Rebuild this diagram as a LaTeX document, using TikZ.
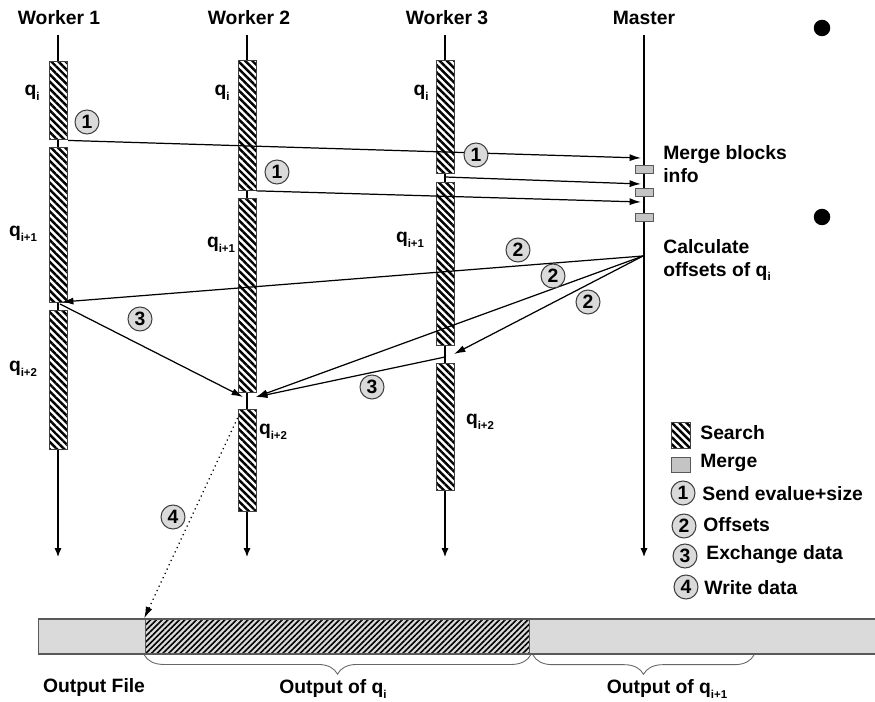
\documentclass[tikz,border=0pt]{standalone}
\usepackage{fontspec}
\setmainfont{Liberation Sans}
\usetikzlibrary{arrows.meta,patterns.meta,decorations.pathreplacing}
\definecolor{mergegray}{RGB}{196,196,196}
\definecolor{filegray}{RGB}{218,218,218}
\definecolor{circgray}{RGB}{218,218,218}
\newcommand{\qsub}[1]{q\raisebox{-0.45ex}{\fontsize{6.5}{7}\selectfont #1}}

\tikzset{
  lbl/.style={font=\bfseries\fontsize{11}{13}\selectfont, inner sep=0pt, align=left},
  searchbar/.style={rectangle, draw=black!75, line width=0.5pt, minimum width=0.36cm, anchor=north, inner sep=0pt,
    preaction={fill=white}, pattern={Lines[angle=-45, distance=2.9pt, line width=1.4pt]}},
  mergebox/.style={rectangle, draw=black!65, line width=0.5pt, fill=mergegray, minimum width=0.36cm, minimum height=0.16cm, inner sep=0pt},
  num/.style={circle, draw=black!75, line width=0.6pt, fill=circgray, minimum size=0.48cm, inner sep=0pt,
    font=\bfseries\fontsize{11}{11}\selectfont},
  lifeline/.style={line width=0.7pt, -{Latex[length=5pt, width=4pt]}},
  msg/.style={line width=0.7pt, -{Latex[length=6.5pt, width=4pt]}},
  brace/.style={draw=black!60, line width=0.5pt, decorate, decoration={brace, mirror, amplitude=11pt}}
}

\begin{document}
\begin{tikzpicture}[x=0.02cm, y=-0.02cm]
        \useasboundingbox (0,0) rectangle (875,702);

        % Column titles
        \node[lbl] (w1) at (59,18) {Worker 1};
        \node[lbl] (w2) at (249,18) {Worker 2};
        \node[lbl] (w3) at (447,18) {Worker 3};
        \node[lbl] (ms) at (644,18) {Master};

        % Lifelines
        \coordinate (w1s) at (58,35);  \coordinate (w1e) at (58,557);
        \coordinate (w2s) at (247,35); \coordinate (w2e) at (247,557);
        \coordinate (w3s) at (445,35); \coordinate (w3e) at (445,557);
        \coordinate (mss) at (644,35); \coordinate (mse) at (644,557);
        \draw[lifeline] (w1s) -- (w1e);
        \draw[lifeline] (w2s) -- (w2e);
        \draw[lifeline] (w3s) -- (w3e);
        \draw[lifeline] (mss) -- (mse);

        % Search blocks
        \node[searchbar, minimum height=1.56cm] (w1a) at (58,60) {};
        \node[searchbar, minimum height=3.1cm] (w1b) at (58,147) {};
        \node[searchbar, minimum height=2.78cm] (w1c) at (58,310) {};
        \node[searchbar, minimum height=2.6cm] (w2a) at (247,60) {};
        \node[searchbar, minimum height=3.88cm] (w2b) at (247,198) {};
        \node[searchbar, minimum height=2.04cm] (w2c) at (247,409) {};
        \node[searchbar, minimum height=2.26cm] (w3a) at (445,60) {};
        \node[searchbar, minimum height=3.26cm] (w3b) at (445,182) {};
        \node[searchbar, minimum height=2.54cm] (w3c) at (445,363) {};

        % Query labels
        \node[lbl] (q1a) at (32,93) {\qsub{i}};
        \node[lbl] (q1b) at (23,234) {\qsub{i+1}};
        \node[lbl] (q1c) at (23,369) {\qsub{i+2}};
        \node[lbl] (q2a) at (222,93) {\qsub{i}};
        \node[lbl] (q2b) at (221,245) {\qsub{i+1}};
        \node[lbl] (q2c) at (273,432) {\qsub{i+2}};
        \node[lbl] (q3a) at (421,93) {\qsub{i}};
        \node[lbl] (q3b) at (410,240) {\qsub{i+1}};
        \node[lbl] (q3c) at (480,422) {\qsub{i+2}};

        % Merge blocks on master
        \node[mergebox] (mg1) at (644,169.5) {};
        \node[mergebox] (mg2) at (644,192.5) {};
        \node[mergebox] (mg3) at (644,217.5) {};
        \node[lbl, anchor=west] (mgtxt) at (663,164) {Merge blocks\\info};
        \node[lbl, anchor=west] (caltxt) at (663,260) {Calculate\\offsets of \qsub{i}};

        % Message end points
        \coordinate (w3gap) at (445,177);
        \coordinate (mIn1) at (641,158);
        \coordinate (mIn2) at (641,184);
        \coordinate (mIn3) at (641,202);
        \coordinate (mOut) at (643,256);
        \coordinate (w1in) at (62,302);
        \coordinate (w1out) at (60,304);
        \coordinate (w2in) at (256,397);
        \coordinate (w2inl) at (243,397);
        \coordinate (w3in) at (454,354);
        \coordinate (w3out) at (445,357);

        % Send evalue+size
        \draw[msg] (w1a.south east) -- (mIn1);
        \draw[msg] (w3gap) -- (mIn2);
        \draw[msg] (w2a.south east) -- (mIn3);

        % Offsets
        \draw[msg] (mOut) -- (w1in);
        \draw[msg] (mOut) -- (w2in);
        \draw[msg] (mOut) -- (w3in);

        % Exchange data
        \draw[msg] (w1out) -- (w2inl);
        \draw[msg] (w3out) -- (w2in);

        % Step numbers
        \node[num] (n1a) at (87,122) {1};
        \node[num] (n1b) at (277,172) {1};
        \node[num] (n1c) at (476,155) {1};
        \node[num] (n2a) at (518,250) {2};
        \node[num] (n2b) at (553,276) {2};
        \node[num] (n2c) at (588,302) {2};
        \node[num] (n3a) at (140,319) {3};
        \node[num] (n3b) at (372,387) {3};
        \node[num] (n4) at (173,517) {4};

        % Output file
        \node[rectangle, draw=black!65, line width=0.6pt, fill=filegray, minimum width=16.8cm, minimum height=0.7cm, inner sep=0pt] (file) at (458,636.5) {};
        \node[rectangle, draw=black!65, line width=0.6pt, minimum width=7.7cm, minimum height=0.7cm, inner sep=0pt,
          preaction={fill=filegray}, pattern={Lines[angle=45, distance=2.3pt, line width=0.9pt]}] (oqi) at (337.5,636.5) {};
        \coordinate (oq1a) at (533,655);
        \coordinate (oq1b) at (754,655);
        \draw[brace] (oqi.south west) -- (oqi.south east);
        \draw[brace] (oq1a) -- (oq1b);
        \node[lbl] (ftxt) at (94,687) {Output File};
        \node[lbl] (oqtxt) at (333,689) {Output of \qsub{i}};
        \node[lbl] (oq1txt) at (667,689) {Output of \qsub{i+1}};

        % Write data
        \draw[line width=0.7pt, dotted, -{Latex[length=6.5pt, width=4pt]}] ([yshift=-0.18cm]w2c.north west) -- (oqi.north west);

        % Legend
        \node[searchbar, anchor=center, minimum width=0.38cm, minimum height=0.52cm] (lgs) at (680.5,435) {};
        \node[lbl, anchor=west] (lgstxt) at (700,433) {Search};
        \node[mergebox, minimum width=0.38cm, minimum height=0.3cm] (lgm) at (680.5,464.5) {};
        \node[lbl, anchor=west] (lgmtxt) at (700,463) {Merge};
        \node[num] (lg1) at (683,493) {1};
        \node[lbl, anchor=west] (lg1txt) at (702,494) {Send evalue+size};
        \node[num] (lg2) at (684,526) {2};
        \node[lbl, anchor=west] (lg2txt) at (703,525) {Offsets};
        \node[num] (lg3) at (685,556) {3};
        \node[lbl, anchor=west] (lg3txt) at (706,555) {Exchange data};
        \node[num] (lg4) at (686,587) {4};
        \node[lbl, anchor=west] (lg4txt) at (704,588) {Write data};

        % Slide bullets
        \node[circle, fill=black, minimum size=0.33cm, inner sep=0pt] (bul1) at (822,28) {};
        \node[circle, fill=black, minimum size=0.33cm, inner sep=0pt] (bul2) at (822,217) {};
    \end{tikzpicture}
\end{document}
